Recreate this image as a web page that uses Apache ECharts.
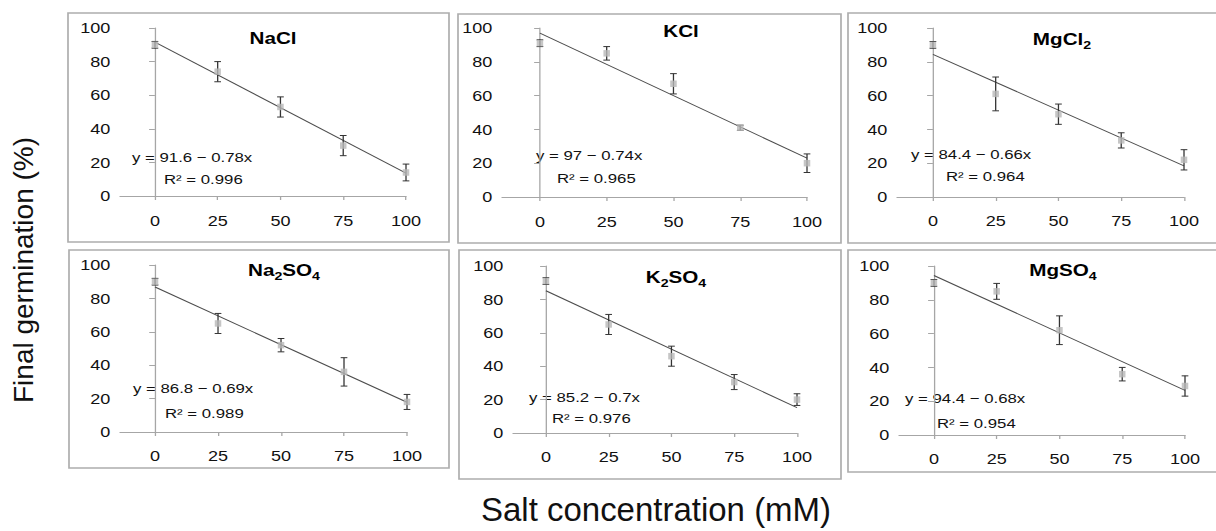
<!DOCTYPE html>
<html>
<head>
<meta charset="utf-8">
<script src="https://cdn.jsdelivr.net/npm/echarts@6/dist/echarts.min.js"></script>
<style>
html,body{margin:0;padding:0;background:#fff;overflow:hidden;}
#wrap{width:1216px;height:531px;overflow:hidden;position:relative;background:#fff;}
#chart{height:531px;transform-origin:0 0;}
</style>
</head>
<body>
<div id="wrap"><div id="chart"></div></div>
<script>
// ---------------- DATA ----------------
const concentrations = [0, 25, 50, 75, 100];
const saltNames = ['NaCl', 'KCl', 'MgCl2', 'Na2SO4', 'K2SO4', 'MgSO4'];

const germNaCl   = [90, 74, 53, 30, 14];
const germKCl    = [91, 85, 67, 41, 20];
const germMgCl2  = [90, 61, 49, 33.5, 22];
const germNa2SO4 = [90, 65, 52, 36, 18];
const germK2SO4  = [91, 65, 46, 30.5, 20];
const germMgSO4  = [90, 85, 62, 36, 29];

const errNaCl   = [2, 6, 6, 6, 5];
const errKCl    = [2, 4, 6, 1.5, 5.5];
const errMgCl2  = [2, 10, 6, 4.5, 6];
const errNa2SO4 = [2, 6, 4, 8.5, 4.5];
const errK2SO4  = [2, 6, 6, 4.5, 3.5];
const errMgSO4  = [2, 4.7, 8.5, 4, 6];

const intercepts = [91.6, 97, 84.4, 86.8, 85.2, 94.4];
const slopes     = [-0.78, -0.74, -0.66, -0.69, -0.7, -0.68];
const rSquared   = ['0.996', '0.965', '0.964', '0.989', '0.976', '0.954'];

const yTicks = [0, 20, 40, 60, 80, 100];
const xTickLabels = concentrations;
const yTitle = 'Final germination (%)';
const xTitle = 'Salt concentration (mM)';

const germination = [germNaCl, germKCl, germMgCl2, germNa2SO4, germK2SO4, germMgSO4];
const errors = [errNaCl, errKCl, errMgCl2, errNa2SO4, errK2SO4, errMgSO4];

// ---------------- LAYOUT (final pixel coords) ----------------
const SX = 1.29;               // panels of the reference are stretched horizontally
const W = 1216 / SX;
const X = v => v / SX;
const FONT = '"Liberation Sans", Arial, sans-serif';

const layout = [
  {box:[68,13,449,242],  grid:[120,28,406,196], xmin:-13.9, title:[273,40],  eq:[132,157], r2:[164,179], lm:18},
  {box:[458,14,841,243], grid:[502,28,807,197], xmin:-14.2, title:[681,33],  eq:[536,155], r2:[557,178], lm:18},
  {box:[848,13,1225,243],grid:[897,28,1184,197],xmin:-14.3, title:[1062,41], eq:[911,154], r2:[946,176], lm:17},
  {box:[69,250,449,468], grid:[120,265,407,432],xmin:-13.9, title:[284,272], eq:[133,388], r2:[165,413], lm:17},
  {box:[459,250,841,479],grid:[513,266,797,433],xmin:-13.1, title:[676,279], eq:[529,397], r2:[552,418], lm:17},
  {box:[848,250,1225,472],grid:[899,266,1185,435],xmin:-13.9,title:[1063,272],eq:[905,398], r2:[937,423], lm:17}
];

const chartDom = document.getElementById('chart');
chartDom.style.width = W + 'px';
chartDom.style.transform = 'scaleX(' + SX + ')';
const chart = echarts.init(chartDom, null, {renderer: 'svg', width: W, height: 531});

const grids = [], xAxes = [], yAxes = [], series = [], graphics = [];

function richName(name) {
  return name.replace(/([A-Za-z]+)|(\d+)/g, (m, letters, digits) =>
    letters ? '{b|' + letters + '}' : '{s|' + digits + '}');
}

layout.forEach((L, i) => {
  const g = L.grid;
  grids.push({left: X(g[0]), top: g[1], width: X(g[2] - g[0]), height: g[3] - g[1], containLabel: false});
  xAxes.push({
    gridIndex: i, type: 'value', min: L.xmin, max: 100,
    axisLine: {show: true, lineStyle: {color: '#a6a6a6', width: 1}},
    axisTick: {show: true, customValues: xTickLabels, length: 4, lineStyle: {color: '#a6a6a6'}},
    axisLabel: {customValues: xTickLabels, margin: L.lm, fontSize: 14, fontFamily: FONT, color: '#111'},
    splitLine: {show: false}
  });
  yAxes.push({
    gridIndex: i, type: 'value', min: 0, max: 100, interval: 20,
    axisLine: {show: true, lineStyle: {color: '#a6a6a6', width: 1}},
    axisTick: {show: true, length: 4.5, lineStyle: {color: '#a6a6a6'}},
    axisLabel: {margin: 7.5, fontSize: 14, fontFamily: FONT, color: '#111'},
    splitLine: {show: false}
  });
  const a = intercepts[i], b = slopes[i];
  series.push({
    type: 'line', xAxisIndex: i, yAxisIndex: i, z: 2, silent: true,
    showSymbol: false, symbol: 'none',
    lineStyle: {color: '#4d4d4d', width: 1},
    data: [[0, a], [100, a + 100 * b]]
  });
  series.push({
    type: 'custom', xAxisIndex: i, yAxisIndex: i, z: 3, silent: true,
    data: concentrations.map((c, j) => [c, germination[i][j], errors[i][j]]),
    encode: {x: 0, y: 1},
    renderItem: function (params, api) {
      const x = api.value(0), y = api.value(1), e = api.value(2);
      const hi = api.coord([x, y + e]);
      const lo = api.coord([x, y - e]);
      const cw = 2.6;
      const st = {stroke: '#333', lineWidth: 1};
      return {
        type: 'group',
        children: [
          {type: 'line', shape: {x1: hi[0], y1: hi[1], x2: lo[0], y2: lo[1]}, style: st},
          {type: 'line', shape: {x1: hi[0] - cw, y1: hi[1], x2: hi[0] + cw, y2: hi[1]}, style: st},
          {type: 'line', shape: {x1: lo[0] - cw, y1: lo[1], x2: lo[0] + cw, y2: lo[1]}, style: st}
        ]
      };
    }
  });
  series.push({
    type: 'scatter', xAxisIndex: i, yAxisIndex: i, z: 4, silent: true,
    symbol: 'rect', symbolSize: [6.5 / SX, 6.5],
    itemStyle: {color: '#b8b8b8'},
    data: concentrations.map((c, j) => [c, germination[i][j]])
  });

  // panel frame
  graphics.push({
    type: 'rect', silent: true, z: -1,
    shape: {x: X(L.box[0]), y: L.box[1], width: X(L.box[2] - L.box[0]), height: L.box[3] - L.box[1]},
    style: {fill: 'none', stroke: '#adadad', lineWidth: 1.3}
  });
  // panel title with subscripts
  graphics.push({
    type: 'text', silent: true, x: X(L.title[0]), y: L.title[1],
    style: {
      text: richName(saltNames[i]), align: 'center', verticalAlign: 'middle',
      rich: {
        b: {fontSize: 16, fontWeight: 'bold', fontFamily: FONT, fill: '#000', verticalAlign: 'bottom', padding: [0, 0, 4, 0]},
        s: {fontSize: 11, fontWeight: 'bold', fontFamily: FONT, fill: '#000', verticalAlign: 'bottom'}
      }
    }
  });
  // regression equation
  graphics.push({
    type: 'text', silent: true, x: X(L.eq[0]), y: L.eq[1],
    style: {text: 'y = ' + a + ' \u2212 ' + (-b) + 'x', fontSize: 13, fontFamily: FONT, fill: '#111', align: 'left', verticalAlign: 'middle'}
  });
  graphics.push({
    type: 'text', silent: true, x: X(L.r2[0]), y: L.r2[1],
    style: {text: 'R\u00b2 = ' + rSquared[i], fontSize: 13, fontFamily: FONT, fill: '#111', align: 'left', verticalAlign: 'middle'}
  });
});

// shared axis titles (not stretched)
graphics.push({
  type: 'text', silent: true, x: X(24), y: 270, rotation: Math.PI / 2, scaleY: 1 / SX,
  style: {text: yTitle, fontSize: 28, fontFamily: FONT, fill: '#111', align: 'center', verticalAlign: 'middle'}
});
graphics.push({
  type: 'text', silent: true, x: X(656), y: 509, scaleX: 1 / SX,
  style: {text: xTitle, fontSize: 33, fontFamily: FONT, fill: '#111', align: 'center', verticalAlign: 'middle'}
});

chart.setOption({
  animation: false,
  backgroundColor: '#fff',
  grid: grids,
  xAxis: xAxes,
  yAxis: yAxes,
  series: series,
  graphic: graphics
});
</script>
</body>
</html>
